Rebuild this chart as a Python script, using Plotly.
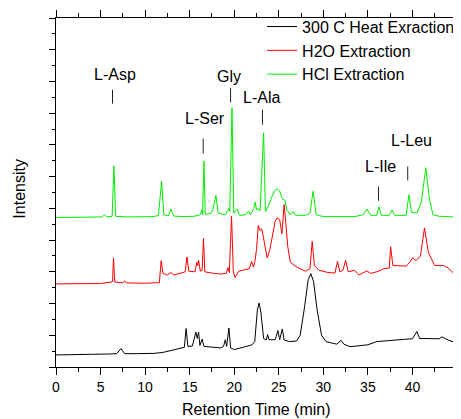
import plotly.graph_objects as go

# ---- data ----
heat_t = [0, 2, 4, 6, 6.8, 7.3, 7.7, 9, 11, 12, 13, 14, 14.4, 14.6, 14.8, 15.3, 15.7, 15.85, 16.0, 16.15,
          16.4, 16.6, 17.5, 18.5, 18.8, 19.0, 19.15, 19.4, 19.6, 20.0, 21, 22, 22.3, 22.6, 22.8, 23.0,
          23.3, 23.6, 23.75, 23.9, 24.6, 24.9, 25.1, 25.4, 25.6, 26.2, 27, 27.4, 27.9, 28.3, 28.6, 28.9,
          29.3, 29.8, 30.3, 31, 31.5, 32.0, 32.3, 33, 34, 35, 36, 37, 38, 39, 40, 40.5, 40.8, 42, 43,
          43.3, 44, 44.7, 45]
heat_i = [0.38, 0.38, 0.40, 0.41, 0.42, 0.58, 0.42, 0.42, 0.43, 0.46, 0.52, 0.60, 0.62, 1.21, 0.65, 0.66,
          1.10, 0.90, 1.10, 0.68, 0.88, 0.65, 0.62, 0.60, 0.65, 0.86, 0.65, 1.23, 0.60, 0.55, 0.62, 0.70,
          0.80, 1.80, 2.02, 1.70, 0.90, 0.85, 1.02, 0.86, 0.86, 1.15, 0.86, 1.20, 0.85, 0.80, 0.82, 1.00,
          1.90, 2.75, 2.94, 2.70, 1.80, 1.00, 0.80, 0.75, 0.72, 0.84, 0.72, 0.64, 0.67, 0.70, 0.80, 0.83,
          0.86, 0.87, 0.89, 1.12, 0.90, 0.90, 0.89, 0.95, 0.85, 0.78, 0.86]

h2o_t = [0, 3, 5, 6.2, 6.35, 6.45, 6.6, 7.5, 7.7, 7.9, 10, 11.6, 11.8, 12.0, 12.5, 12.9, 13.2, 14, 14.5,
         14.7, 14.9, 15.6, 15.8, 15.9, 16.0, 16.2, 16.4, 16.55, 16.7, 17.5, 18.5, 19.1, 19.3, 19.45, 19.7,
         19.9, 20.1, 20.5, 21, 21.7, 21.95, 22.15, 22.3, 22.5, 22.7, 22.9, 23.1, 23.3, 23.5, 23.7, 24.0,
         24.3, 24.6, 24.8, 25.1, 25.35, 25.6, 25.8, 26.0, 26.3, 27, 28, 28.5, 28.75, 29.0, 29.5, 30.5,
         31.3, 31.6, 31.85, 32.2, 32.5, 32.8, 33.5, 34, 34.9, 35.3, 36, 36.8, 37.4, 37.55, 37.8, 38.5,
         39.3, 39.7, 40.0, 40.4, 40.9, 41.35, 41.8, 42.5, 43.5, 44, 44.6, 44.9, 45]
h2o_i = [2.62, 2.63, 2.63, 2.68, 2.70, 3.44, 2.68, 2.65, 2.72, 2.65, 2.64, 2.66, 3.35, 2.95, 2.90, 2.98,
         2.90, 2.96, 3.00, 3.47, 3.02, 3.00, 3.30, 3.20, 3.36, 3.02, 3.05, 4.05, 3.00, 2.96, 2.93, 2.95,
         3.13, 2.98, 4.75, 3.00, 2.82, 3.02, 3.05, 3.10, 3.33, 3.15, 3.30, 3.70, 4.46, 4.30, 4.35, 4.07,
         3.70, 3.44, 3.70, 4.20, 4.60, 4.70, 4.65, 4.20, 5.12, 4.50, 3.81, 3.30, 3.15, 3.02, 3.10, 3.96,
         3.20, 3.05, 2.98, 2.96, 3.33, 3.00, 3.05, 3.36, 3.00, 3.05, 2.90, 3.03, 2.95, 3.00, 3.10, 3.12,
         3.79, 3.20, 3.20, 3.18, 3.30, 3.44, 3.35, 3.50, 4.38, 3.60, 3.20, 3.20, 3.12, 2.96, 2.80, 2.49]

hcl_t = [0, 3, 5.2, 5.45, 5.7, 6.3, 6.5, 6.7, 8, 11, 11.5, 11.85, 12.1, 12.6, 12.9, 13.2, 14, 15.5, 16.2,
         16.35, 16.45, 16.6, 16.75, 17.4, 17.6, 17.95, 18.2, 19.0, 19.4, 19.5, 19.75, 19.95, 20.35, 20.6,
         21.3, 21.6, 21.8, 22.2, 22.35, 22.5, 22.7, 22.9, 23.3, 23.5, 23.8, 24.2, 24.5, 24.8, 25.1, 25.4,
         25.7, 25.9, 26.3, 26.6, 26.9, 28.0, 28.5, 28.85, 29.2, 30, 32, 33.5, 34.5, 34.9, 35.3, 36.0,
         36.25, 36.5, 37.4, 37.7, 38.0, 39.3, 39.6, 39.9, 40.5, 41.0, 41.5, 41.9, 42.3, 43, 44, 44.8, 45]
hcl_i = [4.71, 4.72, 4.73, 4.80, 4.73, 4.75, 6.33, 4.75, 4.73, 4.74, 4.78, 5.86, 4.80, 4.76, 4.98, 4.76,
         4.74, 4.75, 4.80, 4.95, 4.80, 6.49, 4.80, 4.85, 4.95, 5.41, 4.85, 4.80, 5.00, 4.90, 8.17, 4.85,
         4.98, 4.78, 4.80, 4.92, 4.80, 5.00, 5.20, 4.95, 5.00, 4.92, 7.38, 4.90, 5.05, 5.35, 5.55, 5.62,
         5.55, 5.30, 5.25, 4.95, 4.80, 4.90, 4.78, 4.78, 4.85, 5.54, 4.80, 4.74, 4.74, 4.74, 4.80, 4.98,
         4.78, 4.78, 5.05, 4.78, 4.78, 4.95, 4.78, 4.78, 5.43, 4.88, 4.85, 5.20, 6.28, 5.30, 4.80, 4.75,
         4.74, 4.73, 4.50]

series_names = ["300 C Heat Exraction", "H2O Extraction", "HCl Extraction"]
series_colors = ["#000000", "#ff0000", "#00ee00"]

# peak labels: name, marker retention time, label x
peak_names = ["L-Asp", "Gly", "L-Ala", "L-Ser", "L-Leu", "L-Ile"]
peak_marks = [6.34, 19.59, 23.17, 16.52, 39.47, 36.19]
label_x = [6.6, 19.43, 23.06, 16.71, 39.92, 36.38]
label_y = [9.21, 9.16, 8.51, 7.82, 7.14, 6.32]
mark_y0 = [8.30, 8.34, 7.64, 6.73, 5.88, 5.24]
mark_y1 = [8.74, 8.80, 8.11, 7.20, 6.32, 5.69]

x_ticks = [0, 5, 10, 15, 20, 25, 30, 35, 40, 45]

FONT = "Arial, Liberation Sans, sans-serif"

fig = go.Figure()
for t, i, n, c in zip([heat_t, h2o_t, hcl_t], [heat_i, h2o_i, hcl_i], series_names, series_colors):
    fig.add_trace(go.Scatter(x=t, y=i, mode="lines", name=n,
                             line=dict(color=c, width=1)))

for n, mx, lx, ly, y0, y1 in zip(peak_names, peak_marks, label_x, label_y, mark_y0, mark_y1):
    fig.add_annotation(x=lx, y=ly, xref="x", yref="y", text=n, showarrow=False,
                       font=dict(size=16, color="black", family=FONT))
    fig.add_shape(type="line", xref="x", yref="y", x0=mx, x1=mx, y0=y0, y1=y1,
                  line=dict(color="#222222", width=1))

# axis titles
fig.add_annotation(x=0.5, y=-0.121, xref="paper", yref="paper", text="Retention Time (min)",
                   showarrow=False, xanchor="center", yanchor="middle",
                   font=dict(size=16, color="black", family=FONT))
fig.add_annotation(x=-0.0898, y=0.511, xref="paper", yref="paper", text="Intensity", textangle=-90,
                   showarrow=False, xanchor="center", yanchor="middle",
                   font=dict(size=16, color="black", family=FONT))

# the page adds an 8px body margin, so the figure is 8px smaller than the window
fig.update_layout(
    width=453, height=411,
    margin=dict(l=48, r=4, t=10, b=52, autoexpand=False),
    paper_bgcolor="white", plot_bgcolor="white",
    font=dict(family=FONT, size=16, color="black"),
    showlegend=True,
    legend=dict(x=0.514, y=1.024, xanchor="left", yanchor="top",
                bgcolor="rgba(0,0,0,0)", borderwidth=0,
                font=dict(size=16, family=FONT, color="black"),
                tracegroupgap=0),
)
fig.update_xaxes(range=[0, 45], tickvals=x_ticks, ticktext=[str(v) for v in x_ticks],
                 automargin=False,
                 showgrid=False, zeroline=False, showline=True, linecolor="black", linewidth=1,
                 mirror="ticks", ticks="outside", ticklen=7, tickcolor="black",
                 tickfont=dict(size=14, family=FONT),
                 minor=dict(dtick=2.5, tick0=0, ticks="outside", ticklen=4, tickcolor="black"))
fig.update_yaxes(range=[0, 11], dtick=1, tick0=0, showticklabels=False, automargin=False,
                 showgrid=False, zeroline=False, showline=True, linecolor="black", linewidth=1,
                 mirror=True, ticks="outside", ticklen=6, tickcolor="black",
                 minor=dict(dtick=0.5, tick0=0, ticks="outside", ticklen=3, tickcolor="black"))

fig.write_html("out.html")
